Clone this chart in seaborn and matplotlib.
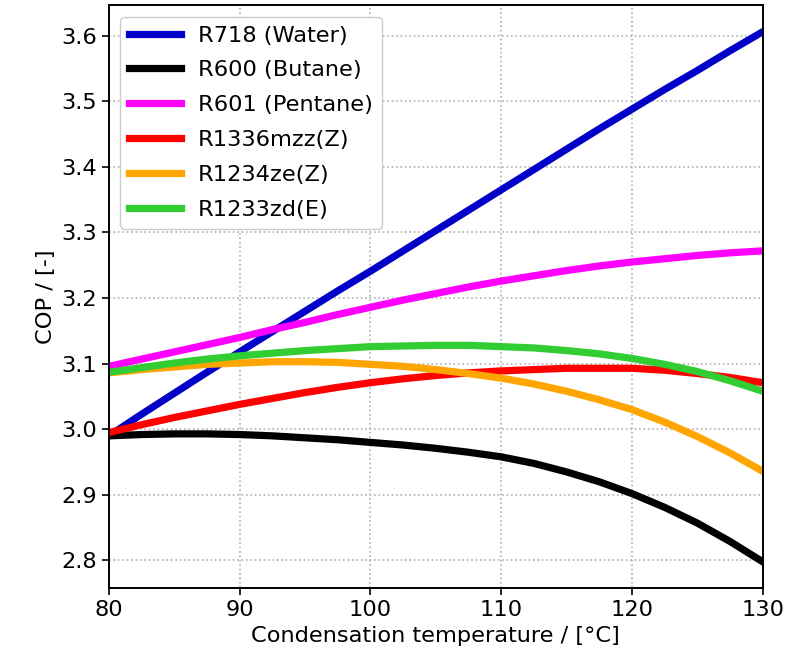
import matplotlib
matplotlib.use("Agg")
import matplotlib.pyplot as plt
import pandas as pd
import seaborn as sns

# Condensation temperature grid (°C)
temperature = [80, 82.5, 85, 87.5, 90, 92.5, 95, 97.5, 100, 102.5, 105,
               107.5, 110, 112.5, 115, 117.5, 120, 122.5, 125, 127.5, 130]

# COP per working fluid
cop_water = [2.990, 3.023, 3.055, 3.087, 3.118, 3.149, 3.180, 3.211, 3.241, 3.272, 3.303,
             3.334, 3.365, 3.396, 3.427, 3.458, 3.488, 3.518, 3.547, 3.577, 3.606]
cop_butane = [2.990, 2.992, 2.993, 2.993, 2.992, 2.990, 2.987, 2.984, 2.980, 2.976, 2.971,
              2.965, 2.958, 2.948, 2.935, 2.920, 2.902, 2.881, 2.857, 2.829, 2.798]
cop_pentane = [3.096, 3.107, 3.118, 3.129, 3.140, 3.152, 3.163, 3.175, 3.186, 3.197, 3.207,
               3.217, 3.226, 3.234, 3.242, 3.249, 3.255, 3.260, 3.265, 3.269, 3.272]
cop_r1336 = [2.995, 3.007, 3.018, 3.028, 3.038, 3.047, 3.056, 3.064, 3.071, 3.077, 3.082,
             3.086, 3.089, 3.091, 3.093, 3.093, 3.093, 3.090, 3.085, 3.079, 3.071]
cop_r1234 = [3.086, 3.091, 3.095, 3.099, 3.101, 3.103, 3.103, 3.102, 3.099, 3.096, 3.091,
             3.085, 3.078, 3.069, 3.058, 3.045, 3.030, 3.011, 2.989, 2.964, 2.936]
cop_r1233 = [3.087, 3.094, 3.101, 3.107, 3.112, 3.116, 3.120, 3.123, 3.126, 3.127, 3.128,
             3.128, 3.126, 3.124, 3.120, 3.115, 3.108, 3.099, 3.088, 3.074, 3.058]

fluids = ["R718 (Water)", "R600 (Butane)", "R601 (Pentane)",
          "R1336mzz(Z)", "R1234ze(Z)", "R1233zd(E)"]
colors = ["#0000c8", "#000000", "#ff00ff", "#ff0000", "#ffa500", "#32cd32"]
series = [cop_water, cop_butane, cop_pentane, cop_r1336, cop_r1234, cop_r1233]

rows = []
for name, values in zip(fluids, series):
    for t, v in zip(temperature, values):
        rows.append({"T": t, "COP": v, "fluid": name})
df = pd.DataFrame(rows)

plt.rcParams["font.family"] = ["DejaVu Sans"]
fs = 16.2

fig = plt.figure(figsize=(7.88, 6.67), dpi=100)
ax = fig.add_axes([0.1383, 0.1180, 0.8296, 0.8741])

sns.lineplot(data=df, x="T", y="COP", hue="fluid", hue_order=fluids,
             palette=colors, linewidth=5.2, ax=ax, legend=True)

ax.set_xlim(80, 130)
ax.set_yticks([2.8, 2.9, 3.0, 3.1, 3.2, 3.3, 3.4, 3.5, 3.6])
ax.set_xticks([80, 90, 100, 110, 120, 130])
ax.grid(True, linestyle=":", color="#b0b0b0", linewidth=1.2)
ax.tick_params(labelsize=fs, length=5, width=1.2)
for s in ax.spines.values():
    s.set_linewidth(1.4)

ax.set_xlabel("Condensation temperature / [°C]", fontsize=fs)
ax.set_ylabel("COP / [-]", fontsize=fs)

handles, labels = ax.get_legend_handles_labels()
ax.legend(handles, labels, loc="upper left", fontsize=fs,
          handlelength=2.3, handletextpad=0.75, labelspacing=0.66,
          borderpad=0.4, framealpha=1.0)

fig.savefig("out.png", dpi=100)
